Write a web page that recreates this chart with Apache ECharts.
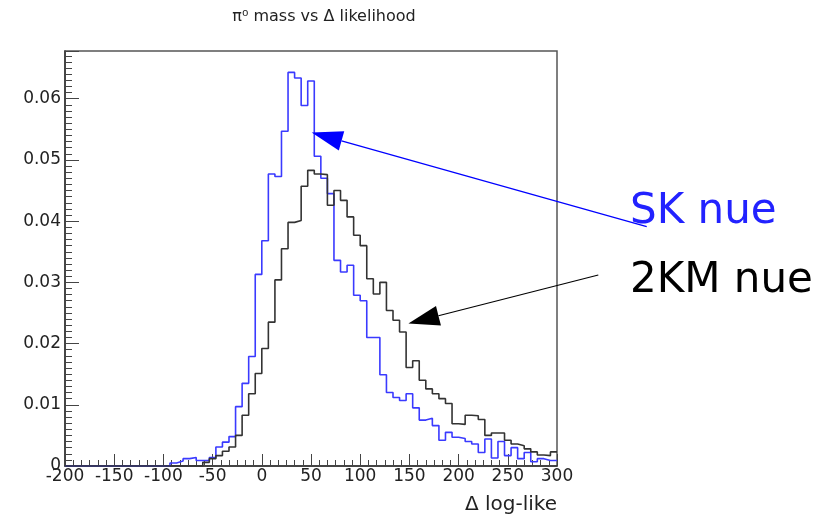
<!DOCTYPE html>
<html>
<head>
<meta charset="utf-8">
<script src="https://cdn.jsdelivr.net/npm/echarts@6/dist/echarts.min.js"></script>
<style>
  html, body { margin: 0; padding: 0; background: #ffffff; }
  #chart { width: 824px; height: 521px; }
</style>
</head>
<body>
<div id="chart"></div>
<script>
// Histogram range: 75 equal bins between these limits
const binLow = -200;
const binHigh = 300;

// Axis ticks
const xTickValues = [-200, -150, -100, -50, 0, 50, 100, 150, 200, 250, 300];
const yTickValues = [0, 0.01, 0.02, 0.03, 0.04, 0.05, 0.06];
const yTop = 0.0678;

// Normalised bin contents, SK nue (blue)
const skNue = [
  0, 0, 0, 0, 0, 0, 0, 0, 0, 0, 0, 0, 0, 0, 0, 0,
  0.0005, 0.0008, 0.0012, 0.0014, 0.0009, 0.0009, 0.0014, 0.0031, 0.0039, 0.0048,
  0.0097, 0.0135, 0.0179, 0.0313, 0.0368, 0.0477, 0.0473, 0.0547, 0.0643, 0.0634,
  0.0589, 0.0629, 0.0506, 0.0470, 0.0445, 0.0336, 0.0317, 0.0328, 0.0279, 0.0270,
  0.0210, 0.0210, 0.0149, 0.0120, 0.0112, 0.0107, 0.0118, 0.0095, 0.0075, 0.0078,
  0.0066, 0.0042, 0.0055, 0.0047, 0.0045, 0.0040, 0.0036, 0.0022, 0.0044, 0.0013,
  0.0040, 0.0017, 0.0030, 0.0012, 0.0022, 0.0007, 0.0012, 0.0009, 0.0009
];

// Normalised bin contents, 2KM nue (black)
const km2Nue = [
  0, 0, 0, 0, 0, 0, 0, 0, 0, 0, 0, 0, 0, 0, 0, 0, 0, 0, 0, 0, 0,
  0.0006, 0.0012, 0.0017, 0.0024, 0.0031, 0.0050, 0.0083, 0.0118, 0.0151, 0.0192,
  0.0235, 0.0304, 0.0355, 0.0398, 0.0401, 0.0457, 0.0483, 0.0477, 0.0476, 0.0426,
  0.0450, 0.0434, 0.0407, 0.0377, 0.0360, 0.0306, 0.0281, 0.0300, 0.0254, 0.0238,
  0.0219, 0.0161, 0.0172, 0.0140, 0.0126, 0.0118, 0.0110, 0.0102, 0.0069, 0.0068,
  0.0083, 0.0082, 0.0076, 0.0050, 0.0054, 0.0054, 0.0042, 0.0036, 0.0033, 0.0028,
  0.0023, 0.0018, 0.0017, 0.0023
];

// Build step outline points: one point per bin low edge, plus the upper edge
function histPoints(values) {
  const w = (binHigh - binLow) / values.length;
  const pts = values.map((v, i) => [binLow + i * w, v]);
  pts.push([binHigh, values[values.length - 1]]);
  return pts;
}

const axisFont = 'DejaVu Sans';
const chart = echarts.init(document.getElementById('chart'));

chart.setOption({
  animation: false,
  backgroundColor: '#ffffff',
  grid: {
    left: 65, right: 267, top: 51, bottom: 55,
    show: true, borderColor: '#555555', borderWidth: 1.5, backgroundColor: 'transparent'
  },
  xAxis: {
    type: 'value',
    min: xTickValues[0],
    max: xTickValues[xTickValues.length - 1],
    interval: 50,
    axisLine: { show: true, onZero: false, lineStyle: { color: '#333333', width: 1.5 } },
    axisTick: { show: true, inside: true, length: 12, lineStyle: { color: '#444444', width: 1 } },
    minorTick: { show: true, splitNumber: 6, length: 6, lineStyle: { color: '#444444', width: 1 } },
    splitLine: { show: false },
    axisLabel: {
      margin: 2, fontFamily: axisFont, fontSize: 17, color: '#222222',
      formatter: v => String(v)
    }
  },
  yAxis: {
    type: 'value',
    min: yTickValues[0],
    max: yTop,
    interval: 0.01,
    axisLine: { show: true, onZero: false, lineStyle: { color: '#333333', width: 1.5 } },
    axisTick: { show: true, inside: true, length: 14, lineStyle: { color: '#444444', width: 1 } },
    minorTick: { show: true, splitNumber: 10, length: 7, lineStyle: { color: '#444444', width: 1 } },
    splitLine: { show: false },
    axisLabel: {
      margin: 4, fontFamily: axisFont, fontSize: 17, color: '#222222',
      showMaxLabel: false,
      formatter: v => (v === 0 ? '0' : v.toFixed(2))
    }
  },
  series: [
    {
      name: 'SK nue', type: 'line', step: 'end', symbol: 'none',
      data: histPoints(skNue),
      lineStyle: { color: '#3a3aff', width: 1.6 }
    },
    {
      name: '2KM nue', type: 'line', step: 'end', symbol: 'none',
      data: histPoints(km2Nue),
      lineStyle: { color: '#333333', width: 1.6 }
    }
  ]
});

// Arrow from a label towards a point on the histogram
function arrow(tail, tip, color) {
  const dx = tip[0] - tail[0], dy = tip[1] - tail[1];
  const len = Math.hypot(dx, dy);
  const ux = dx / len, uy = dy / len;
  const headLen = 31, headHalf = 10;
  const bx = tip[0] - ux * headLen, by = tip[1] - uy * headLen;
  const px = -uy * headHalf, py = ux * headHalf;
  return [
    { type: 'line', shape: { x1: tail[0], y1: tail[1], x2: bx, y2: by },
      style: { stroke: color, lineWidth: 1.2 }, z: 10 },
    { type: 'polygon', shape: { points: [tip, [bx + px, by + py], [bx - px, by - py]] },
      style: { fill: color }, z: 10 }
  ];
}

const skTip = chart.convertToPixel({ gridIndex: 0 }, [50.7, 0.0545]);
const kmTip = chart.convertToPixel({ gridIndex: 0 }, [149, 0.0233]);

chart.setOption({
  graphic: [
    { type: 'text', x: 324, y: 17,
      style: { text: 'π⁰ mass vs Δ likelihood', font: '16px "DejaVu Sans"', fill: '#222222',
               textAlign: 'center', textVerticalAlign: 'middle' } },
    { type: 'text', x: 557, y: 505,
      style: { text: 'Δ log-like', font: '20px "DejaVu Sans"', fill: '#222222',
               textAlign: 'right', textVerticalAlign: 'middle' } },
    { type: 'text', x: 630, y: 233,
      style: { text: 'SK nue', font: '42px "DejaVu Sans"', fill: '#2222ff',
               textAlign: 'left', textVerticalAlign: 'bottom' } },
    { type: 'text', x: 630, y: 302,
      style: { text: '2KM nue', font: '42px "DejaVu Sans"', fill: '#000000',
               textAlign: 'left', textVerticalAlign: 'bottom' } },
    ...arrow([646.7, 226.7], skTip, '#0000ff'),
    ...arrow([598.3, 275], kmTip, '#000000')
  ]
});
</script>
</body>
</html>
